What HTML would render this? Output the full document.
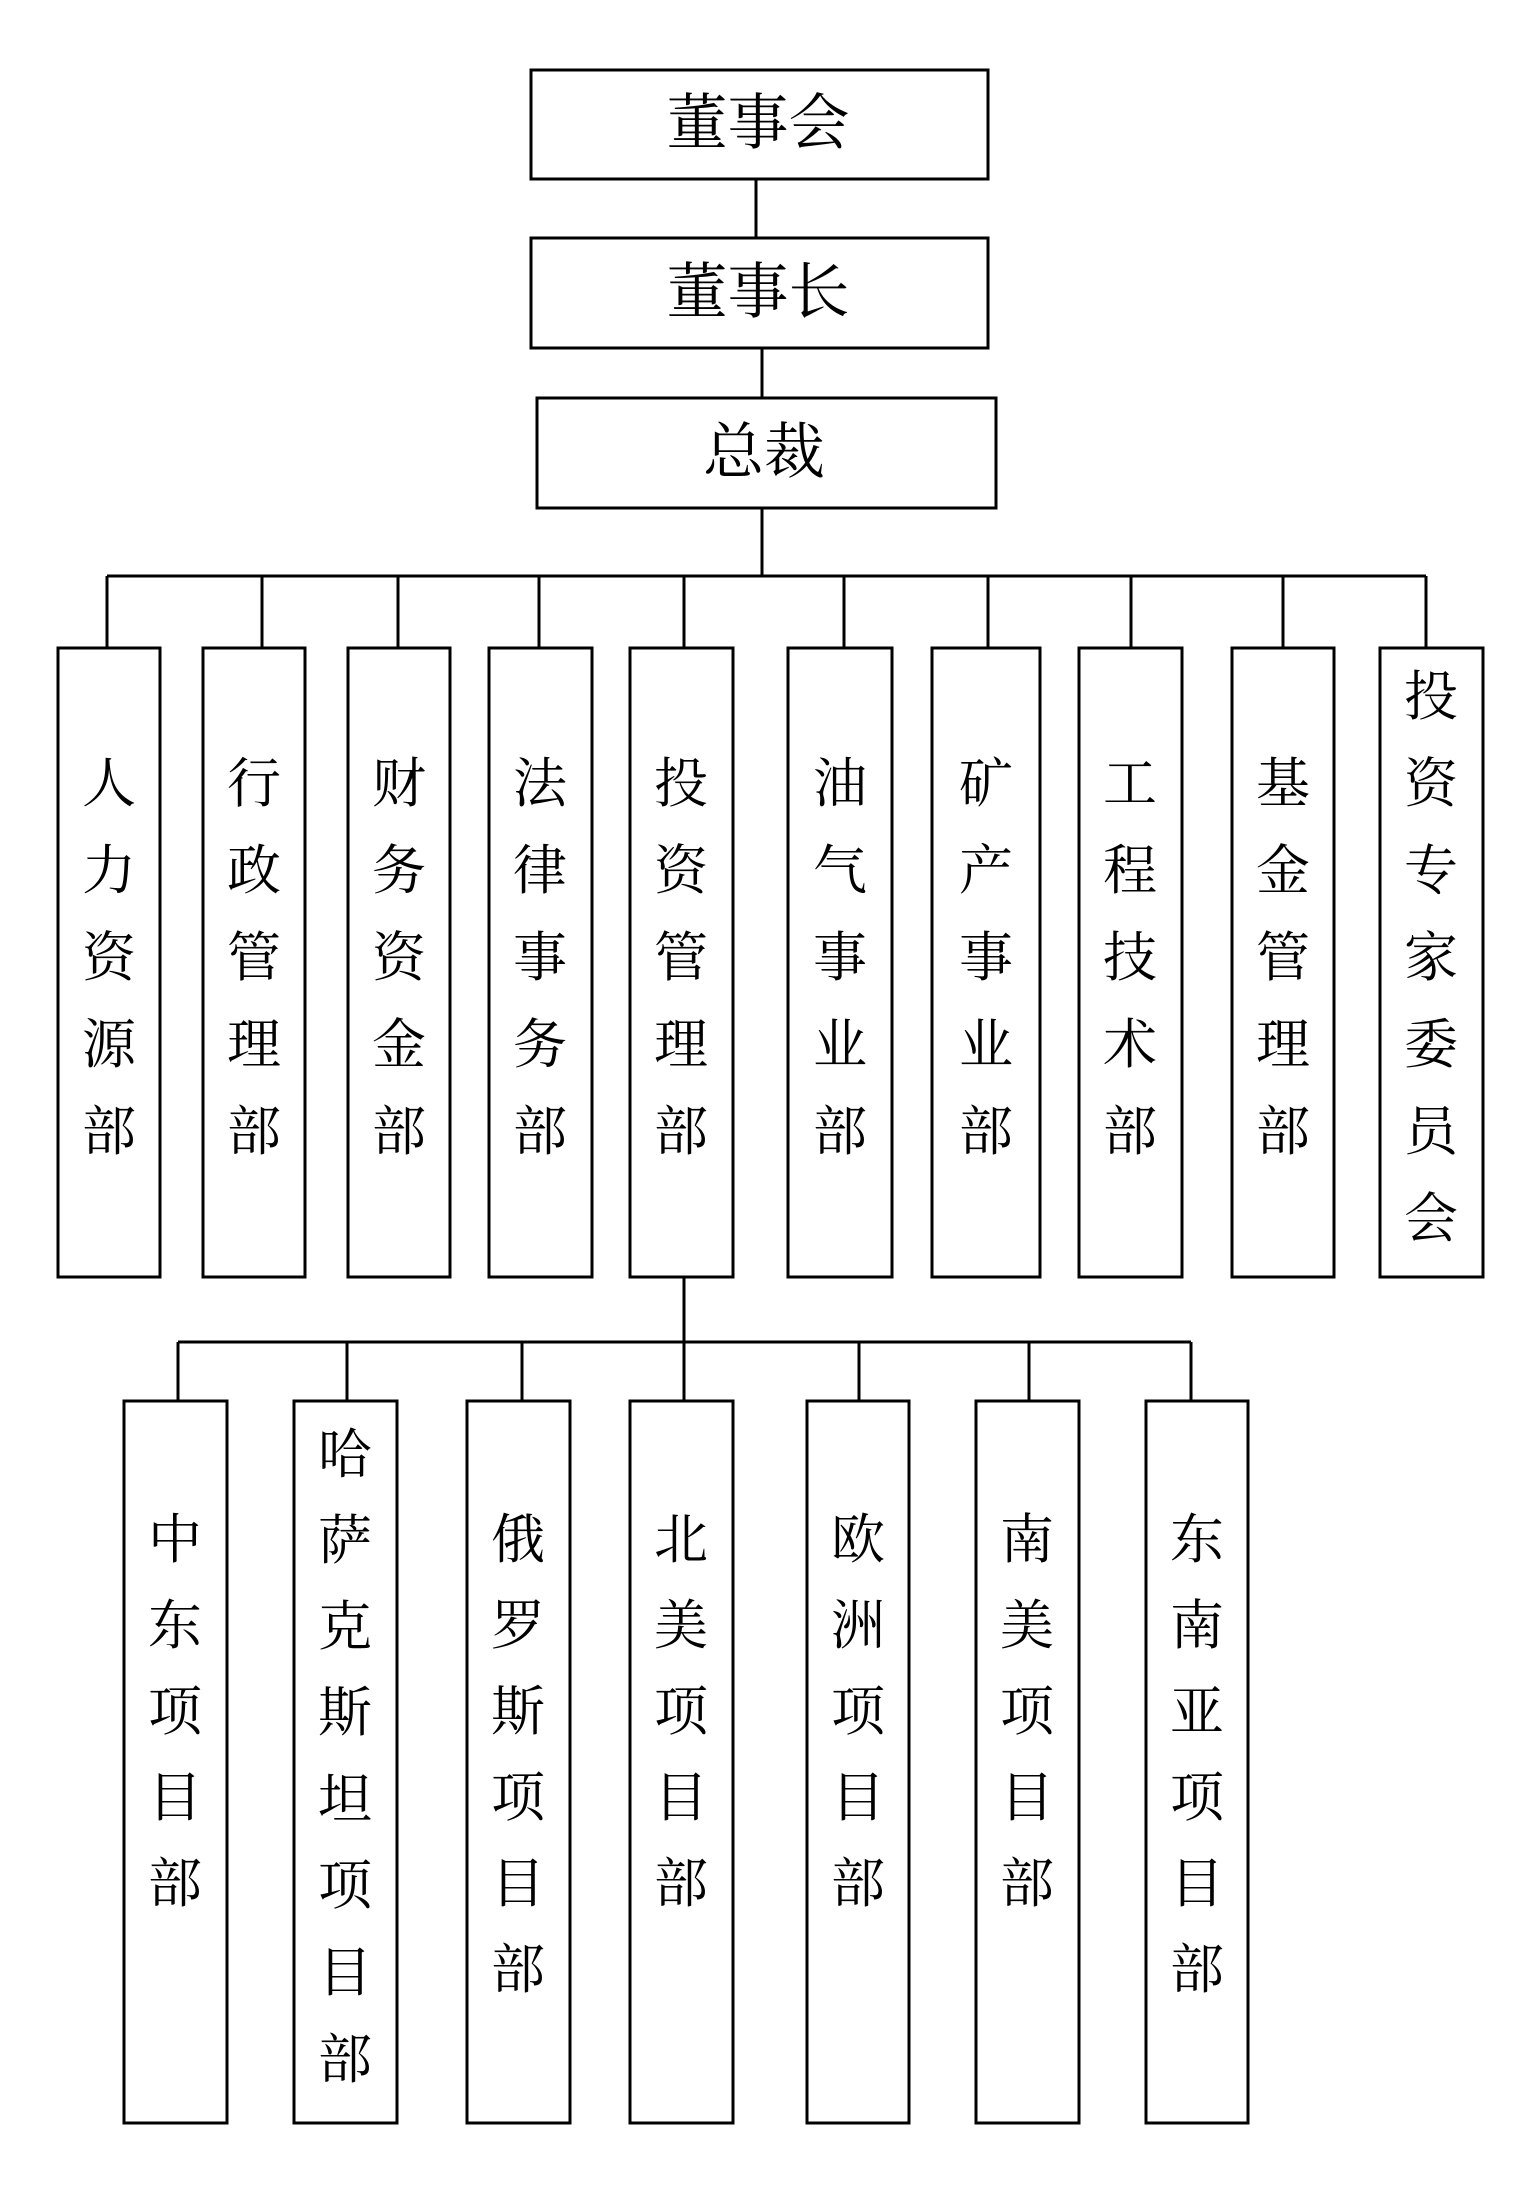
<!DOCTYPE html>
<html><head><meta charset="utf-8"><style>
html,body{margin:0;padding:0;background:#fff}
svg{display:block}
text{font-family:"Liberation Serif","Noto Serif CJK SC",serif;font-size:54px;fill:#000}
text.big{font-size:61px}
</style></head><body>
<svg width="1527" height="2185" viewBox="0 0 1527 2185" xmlns="http://www.w3.org/2000/svg">
<g fill="none" stroke="#000" stroke-width="3">
<rect x="531" y="70" width="457" height="109"/>
<rect x="531" y="238" width="457" height="110"/>
<rect x="537" y="398" width="459" height="110"/>
<line x1="756" y1="179" x2="756" y2="238"/>
<line x1="762" y1="348" x2="762" y2="398"/>
<line x1="762" y1="508" x2="762" y2="576"/>
<line x1="107" y1="576" x2="1426" y2="576"/>
<line x1="107" y1="576" x2="107" y2="648"/><line x1="262" y1="576" x2="262" y2="648"/>
<line x1="398" y1="576" x2="398" y2="648"/><line x1="539" y1="576" x2="539" y2="648"/>
<line x1="684" y1="576" x2="684" y2="648"/><line x1="844" y1="576" x2="844" y2="648"/>
<line x1="988" y1="576" x2="988" y2="648"/><line x1="1131" y1="576" x2="1131" y2="648"/>
<line x1="1283" y1="576" x2="1283" y2="648"/><line x1="1426" y1="576" x2="1426" y2="648"/>
<rect x="58" y="648" width="102" height="629"/>
<rect x="203" y="648" width="102" height="629"/>
<rect x="348" y="648" width="102" height="629"/>
<rect x="489" y="648" width="103" height="629"/>
<rect x="630" y="648" width="103" height="629"/>
<rect x="788" y="648" width="104" height="629"/>
<rect x="932" y="648" width="108" height="629"/>
<rect x="1079" y="648" width="103" height="629"/>
<rect x="1232" y="648" width="102" height="629"/>
<rect x="1380" y="648" width="103" height="629"/>
<line x1="684" y1="1277" x2="684" y2="1342"/>
<line x1="178" y1="1342" x2="1191" y2="1342"/>
<line x1="178" y1="1342" x2="178" y2="1401"/><line x1="347" y1="1342" x2="347" y2="1401"/>
<line x1="522" y1="1342" x2="522" y2="1401"/><line x1="684" y1="1342" x2="684" y2="1401"/>
<line x1="859" y1="1342" x2="859" y2="1401"/><line x1="1029" y1="1342" x2="1029" y2="1401"/>
<line x1="1191" y1="1342" x2="1191" y2="1401"/>
<rect x="124" y="1401" width="103" height="722"/>
<rect x="294" y="1401" width="103" height="722"/>
<rect x="467" y="1401" width="103" height="722"/>
<rect x="630" y="1401" width="103" height="722"/>
<rect x="807" y="1401" width="102" height="722"/>
<rect x="976" y="1401" width="103" height="722"/>
<rect x="1146" y="1401" width="102" height="722"/>
</g>
<g text-anchor="middle" dominant-baseline="central">
<text class="big" x="758" y="124">董事会</text>
<text class="big" x="758" y="293">董事长</text>
<text class="big" x="764" y="453">总裁</text>
</g>
<g text-anchor="middle" dominant-baseline="central">
<g transform="translate(109,0)"><text y="784">人</text><text y="871">力</text><text y="958">资</text><text y="1045">源</text><text y="1132">部</text></g>
<g transform="translate(254,0)"><text y="784">行</text><text y="871">政</text><text y="958">管</text><text y="1045">理</text><text y="1132">部</text></g>
<g transform="translate(399,0)"><text y="784">财</text><text y="871">务</text><text y="958">资</text><text y="1045">金</text><text y="1132">部</text></g>
<g transform="translate(540,0)"><text y="784">法</text><text y="871">律</text><text y="958">事</text><text y="1045">务</text><text y="1132">部</text></g>
<g transform="translate(681,0)"><text y="784">投</text><text y="871">资</text><text y="958">管</text><text y="1045">理</text><text y="1132">部</text></g>
<g transform="translate(840,0)"><text y="784">油</text><text y="871">气</text><text y="958">事</text><text y="1045">业</text><text y="1132">部</text></g>
<g transform="translate(986,0)"><text y="784">矿</text><text y="871">产</text><text y="958">事</text><text y="1045">业</text><text y="1132">部</text></g>
<g transform="translate(1130,0)"><text y="784">工</text><text y="871">程</text><text y="958">技</text><text y="1045">术</text><text y="1132">部</text></g>
<g transform="translate(1283,0)"><text y="784">基</text><text y="871">金</text><text y="958">管</text><text y="1045">理</text><text y="1132">部</text></g>
<g transform="translate(1431,0)"><text y="697">投</text><text y="784">资</text><text y="871">专</text><text y="958">家</text><text y="1045">委</text><text y="1132">员</text><text y="1219">会</text></g>

<g transform="translate(175,0)"><text y="1540">中</text><text y="1626">东</text><text y="1712">项</text><text y="1798">目</text><text y="1884">部</text></g>
<g transform="translate(345,0)"><text y="1455">哈</text><text y="1541">萨</text><text y="1627">克</text><text y="1713">斯</text><text y="1800">坦</text><text y="1886">项</text><text y="1973">目</text><text y="2060">部</text></g>
<g transform="translate(518,0)"><text y="1540">俄</text><text y="1626">罗</text><text y="1712">斯</text><text y="1798">项</text><text y="1884">目</text><text y="1970">部</text></g>
<g transform="translate(681,0)"><text y="1540">北</text><text y="1626">美</text><text y="1712">项</text><text y="1798">目</text><text y="1884">部</text></g>
<g transform="translate(858,0)"><text y="1540">欧</text><text y="1626">洲</text><text y="1712">项</text><text y="1798">目</text><text y="1884">部</text></g>
<g transform="translate(1027,0)"><text y="1540">南</text><text y="1626">美</text><text y="1712">项</text><text y="1798">目</text><text y="1884">部</text></g>
<g transform="translate(1197,0)"><text y="1540">东</text><text y="1626">南</text><text y="1712">亚</text><text y="1798">项</text><text y="1884">目</text><text y="1970">部</text></g>
</g>
</svg>
</body></html>
